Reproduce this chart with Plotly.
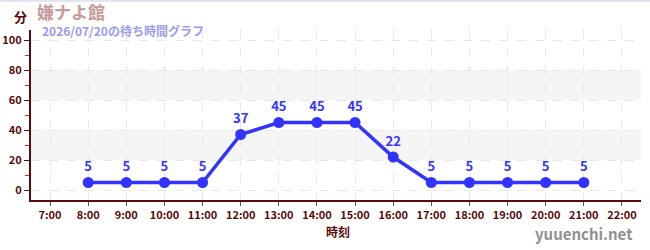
import plotly.graph_objects as go

hours = [8, 9, 10, 11, 12, 13, 14, 15, 16, 17, 18, 19, 20, 21]
waits = [5, 5, 5, 5, 37, 45, 45, 45, 22, 5, 5, 5, 5, 5]
tick_hours = list(range(7, 23))
tick_labels = [f"{h}:00" for h in tick_hours]
y_ticks = [0, 20, 40, 60, 80, 100]
title = "嫌ナよ館"
subtitle = "2026/07/20の待ち時間グラフ"

axis_col = "#5a0a0a"
font_fam = "Noto Sans CJK JP, Noto Sans, sans-serif"

L, T, PW, PH = 31, 30, 610, 170

fig = go.Figure()
fig.add_trace(go.Scatter(
    x=hours, y=waits, mode="lines+markers+text",
    line=dict(color="#3333ff", width=3.5),
    marker=dict(color="#3333ff", size=11),
    text=[f"<b>{v}</b>" for v in waits], textposition="top center",
    textfont=dict(color="#3333ff", size=13, family=font_fam),
    hoverinfo="skip", cliponaxis=False,
))

shapes = []
for lo, hi in [(20, 40), (60, 80)]:
    shapes.append(dict(type="rect", xref="paper", yref="y", x0=0, x1=1, y0=lo, y1=hi,
                       fillcolor="#f5f5f5", line=dict(width=0), layer="below"))
shapes.append(dict(type="line", xref="paper", yref="paper", x0=-0.1, x1=1.1,
                   y0=1 + (T - 1) / PH, y1=1 + (T - 1) / PH,
                   line=dict(color="#e4e4f4", width=2)))

fig.update_layout(
    width=650, height=250,
    margin=dict(l=L, r=650 - L - PW, t=T, b=250 - T - PH, autoexpand=False),
    paper_bgcolor="white", plot_bgcolor="white",
    showlegend=False,
    font=dict(family=font_fam, color=axis_col),
    shapes=shapes,
)
ann = [
    dict(text="<b>分</b>", x=20, y=16, anchor="center", size=13),
    dict(text="<b>" + title + "</b>", x=35, y=12, size=17, color="#c89a9a", anchor="left"),
    dict(text="<b>" + subtitle + "</b>", x=40, y=31, size=12, color="#9a9aee", anchor="left"),
    dict(text="<b>時刻</b>", x=338, y=231, size=12, anchor="center"),
    dict(text="<b>yuuenchi.net</b>", x=635, y=233, size=15, color="#909090", anchor="right"),
]
for a in ann:
    fig.add_annotation(
        text=a["text"], xref="paper", yref="paper",
        x=(a["x"] - L) / PW, y=1 - (a["y"] - T) / PH,
        xanchor=a["anchor"], yanchor="middle", showarrow=False,
        font=dict(size=a.get("size", 12), color=a.get("color", axis_col), family=font_fam),
    )

fig.update_xaxes(
    range=[6.5, 22.5], tickvals=tick_hours, ticktext=[f"<b>{t}</b>" for t in tick_labels],
    showline=True, linecolor=axis_col, linewidth=2,
    ticks="outside", ticklen=4, tickcolor="#555555",
    tickfont=dict(size=11, color=axis_col),
    showgrid=True, gridcolor="#e8e8e8", griddash="dash", gridwidth=1,
    zeroline=False, fixedrange=True, automargin=False,
)
fig.update_yaxes(
    range=[-6.67, 106.67], tickvals=y_ticks, ticktext=[f"<b>{v}</b>" for v in y_ticks],
    showline=True, linecolor=axis_col, linewidth=2,
    ticks="outside", ticklen=5, tickcolor="#222222",
    tickfont=dict(size=11, color=axis_col),
    showgrid=True, gridcolor="#e8e8e8", griddash="dash", gridwidth=1,
    minor=dict(tickvals=[10, 30, 50, 70, 90], ticks="outside", ticklen=4, tickcolor="#dd2222", showgrid=False),
    zeroline=False, fixedrange=True, automargin=False,
)

fig.write_html("out.html")
